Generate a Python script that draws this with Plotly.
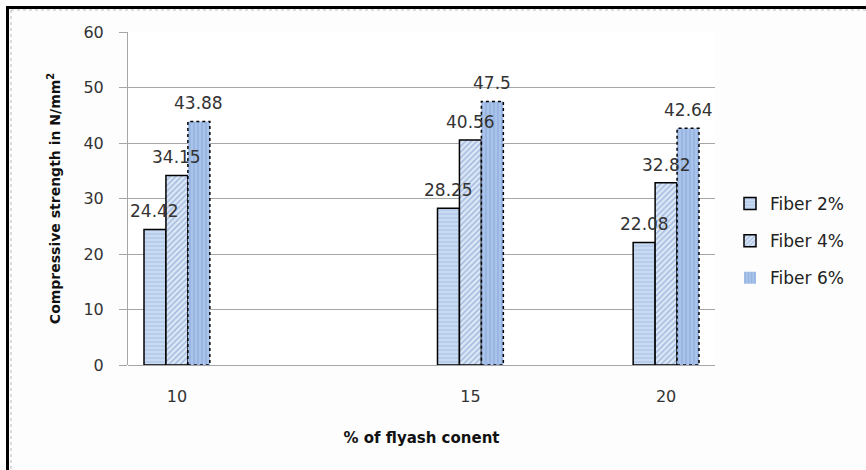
import plotly.graph_objects as go

# Compressive strength (N/mm^2) by fly ash content and fibre dosage
flyash = ["10", "15", "20"]
slots = ["10", None, None, "15", None, "20"]   # category slots along the x axis (None = empty slot)
fiber2 = [24.42, 28.25, 22.08]
fiber4 = [34.15, 40.56, 32.82]
fiber6 = [43.88, 47.5, 42.64]
series_names = ["Fiber 2%", "Fiber 4%", "Fiber 6%"]

W, H = 866, 470
L, R, T, B = 128, 151, 32, 105
PW, PH = W - L - R, H - T - B

BARGAP = 0.327
styles = [
    dict(shape="-", bg="#C9DBF2", fg="#93B1DA", line=1.5),
    dict(shape="/", bg="#DCE7F6", fg="#5F86C4", line=1.5),
    dict(shape="|", bg="#A9C3EA", fg="#7C9FD6", line=0),
]

xpos = [slots.index(c) for c in flyash]
all_vals = [fiber2, fiber4, fiber6]

# bar geometry in axis units (three bars side by side per slot)
bw = (1 - BARGAP) / 3
def bar_offset(k):
    return -(1 - BARGAP) / 2 + k * bw

fig = go.Figure()
for k, (name, vals, st) in enumerate(zip(series_names, all_vals, styles)):
    fig.add_trace(go.Bar(
        x=xpos, y=vals, name=name, legendgroup=name,
        width=bw, offset=bar_offset(k),
        marker=dict(
            color=st["bg"],
            line=dict(color="black", width=st["line"]),
            pattern=dict(shape=st["shape"], bgcolor=st["bg"], fgcolor=st["fg"],
                         size=4, solidity=0.35, fillmode="overlay"),
        ),
    ))

shapes = []
annotations = []
for k, vals in enumerate(all_vals):
    for pos, v in zip(xpos, vals):
        x0 = pos + bar_offset(k)
        annotations.append(dict(
            x=x0 + bw / 2, y=v, xref="x", yref="y", text=f"{v:g}", showarrow=False,
            yanchor="bottom", yshift=6,
            font=dict(family="DejaVu Sans", size=17, color="#333333"),
        ))
        if k == 2:
            # dotted outline for the 6% bars
            shapes.append(dict(type="rect", xref="x", yref="y",
                               x0=x0, x1=x0 + bw, y0=0, y1=v,
                               line=dict(color="black", width=1.5, dash="dot"),
                               fillcolor="rgba(0,0,0,0)", layer="above"))

def px_x(p):
    return (p - L) / PW
def px_y(p):
    return (H - B - p) / PH

# frame around the figure
shapes += [
    dict(type="line", xref="paper", yref="paper", x0=px_x(6), x1=px_x(870),
         y0=px_y(7.5), y1=px_y(7.5), line=dict(color="black", width=3)),
    dict(type="line", xref="paper", yref="paper", x0=px_x(7.5), x1=px_x(7.5),
         y0=px_y(6), y1=px_y(475), line=dict(color="black", width=3)),
    dict(type="line", xref="paper", yref="paper", x0=px_x(11), x1=px_x(870),
         y0=px_y(10), y1=px_y(10), line=dict(color="#BBBBBB", width=1, dash="dot")),
    dict(type="line", xref="paper", yref="paper", x0=px_x(11), x1=px_x(11),
         y0=px_y(10), y1=px_y(475), line=dict(color="#BBBBBB", width=1, dash="dot")),
]

fig.update_layout(
    width=W, height=H,
    margin=dict(l=L, r=R, t=T, b=B),
    paper_bgcolor="#FDFDFD", plot_bgcolor="#FFFFFF",
    barmode="overlay",
    font=dict(family="DejaVu Sans", size=16, color="#333333"),
    shapes=shapes, annotations=annotations,
    legend=dict(x=px_x(730), y=px_y(241), xanchor="left", yanchor="middle",
                font=dict(family="DejaVu Sans", size=17, color="#222222"),
                tracegroupgap=12, bgcolor="rgba(0,0,0,0)", itemwidth=30),
    showlegend=True,
)
fig.update_xaxes(
    type="linear", range=[-0.5, len(slots) - 0.5],
    tickmode="array", tickvals=xpos, ticktext=flyash,
    showline=False, showgrid=False, zeroline=False, ticks="",
    ticklabelstandoff=20,
    tickfont=dict(family="DejaVu Sans", size=16, color="#333333"),
    title=dict(text="<b>% of flyash conent</b>", standoff=27,
               font=dict(family="DejaVu Sans", size=15, color="#111111")),
)
fig.update_yaxes(
    range=[0, 60], dtick=10, showgrid=True, gridcolor="#A6A6A6", gridwidth=1,
    showline=True, linecolor="#A6A6A6", linewidth=1,
    ticks="outside", ticklen=8, tickcolor="#A6A6A6",
    zeroline=True, zerolinecolor="#A6A6A6", zerolinewidth=1,
    ticklabelstandoff=12,
    tickfont=dict(family="DejaVu Sans", size=16, color="#333333"),
    title=dict(text="<b>Compressive strength in N/mm<sup>2</sup></b>", standoff=19,
               font=dict(family="DejaVu Sans", size=14, color="#111111")),
)

fig.write_html("out.html")
